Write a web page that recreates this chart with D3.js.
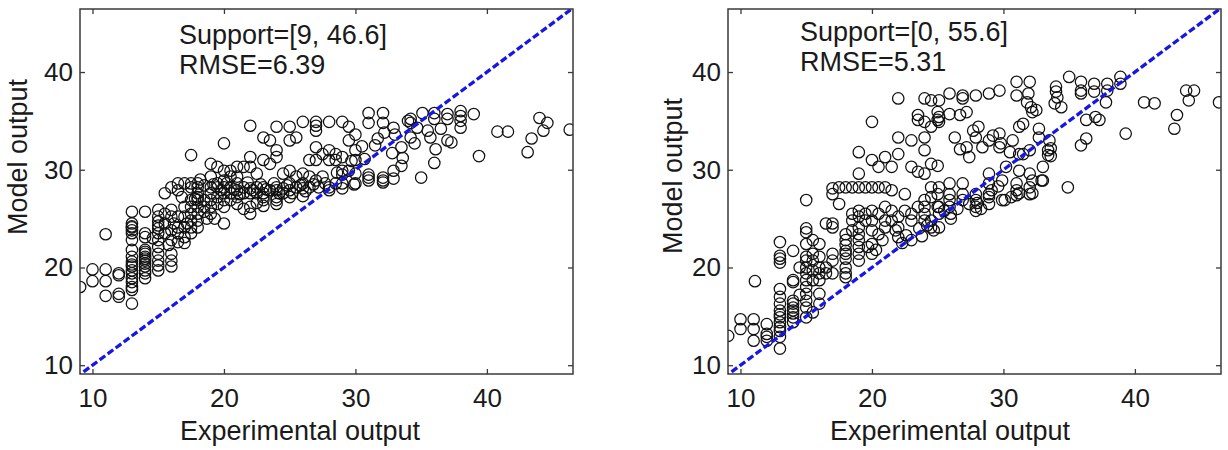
<!DOCTYPE html>
<html>
<head>
<meta charset="utf-8">
<script src="https://cdn.jsdelivr.net/npm/d3@7"></script>
<style>
  body { margin: 0; background: #fff; }
  svg { display: block; }
  .ax text { font-family: "Liberation Sans", Arial, sans-serif; font-size: 26px; fill: #1a1a1a; }
  .ax line { stroke: #3a3a3a; stroke-width: 1.3; }
  .ax path { display: none; }
  .lbl { font-family: "Liberation Sans", Arial, sans-serif; font-size: 27px; fill: #1a1a1a; }
</style>
</head>
<body>
<script>
// tick values shared by both panels
var ticks = [10, 20, 30, 40];
var xDomain = [9.05, 46.55];
var yDomain = [9.1, 46.45];

// Left panel: Support=[9, 46.6], RMSE=6.39  (experimental, model)
var leftPts = [
  [9.06,18.0],[10,19.8],[10,18.6],[11,19.8],[11,18.6],[11,17.1],[11,23.4],[12,19.4],[12,17.3],[12,17.0],[12,19.2],
  [13,25.7],[13,24.5],[13,24.1],[13,23.8],[13,23.5],[13,22.8],[13,21.8],[13,21.1],[13,20.6],[13,20.1],[13,19.7],[13,19.4],[13,18.9],[13,18.5],[13,18.0],[13,17.7],[13,16.3],[13,24.2],[13,20.3],
  [14,25.7],[14,23.5],[14,23.1],[14,21.8],[14,21.4],[14,21.1],[14,20.7],[14,20.4],[14,20.1],[14,19.7],[14,19.4],[14,18.9],[14,21.6],[14,20.9],
  [15,25.9],[15,25.2],[15,24.7],[15,24.3],[15,24.0],[15,23.5],[15,22.8],[15,22.1],[15,21.4],[15,20.7],[15,20.2],[15,19.7],[14.6,23.0],
  [15.5,27.6],[15.5,25.5],[15.5,24.5],[15.5,23.5],
  [16,28.2],[16,25.9],[16,25.2],[16,23.8],[16,22.8],[16,21.4],[16,20.7],[16,20.1],
  [16.5,28.6],[16.5,27.9],[16.5,25.2],[16.5,24.1],[16.5,23.5],[16.5,22.6],
  [17,28.6],[17,26.2],[17,25.2],[17,24.1],[17,23.1],
  [17.5,31.5],[17.5,28.6],[17.5,28.2],[17.5,26.9],[17.5,26.2],[17.5,25.5],[17.5,24.8],[17.5,24.1],[17.5,23.5],
  [18,28.6],[18,28.2],[18,27.6],[18,27.2],[18,26.9],[18,26.2],[18,25.5],[18,24.8],[18,24.1],
  [18.5,28.4],[18.5,26.9],[18.5,26.2],[18.5,25.7],
  [19,29.3],[19,28.2],[19,27.6],[19,26.9],[19,26.2],[19,25.5],[19,30.6],
  [19.5,30.3],[19.5,28.6],[19.5,28.2],[19.5,27.2],[19.5,26.5],
  [20,32.7],[20,29.9],[20,28.9],[20,28.2],[20,27.6],[20,26.9],[20,26.2],[20,24.5],
  [20.5,29.9],[20.5,29.3],[20.5,28.2],[20.5,27.6],[20.5,26.9],
  [21,30.3],[21,29.3],[21,28.6],[21,27.9],[21,27.2],
  [21.5,30.3],[21.5,28.2],[21.5,27.6],
  [22,34.5],[22,31.3],[22,30.3],[22,28.1],[22,27.6],[22,26.2],[22,25.5],
  [22.5,29.6],[22.5,28.2],[22.5,27.6],
  [23,33.3],[23,31.0],[23,28.2],[23,27.6],[23,27.2],[23,26.9],
  [23.5,33.0],[23.5,30.6],[23.5,27.9],
  [24,34.4],[24,32.0],[24,31.3],[24,28.2],[24,27.9],[24,27.2],[24,26.9],
  [24.5,29.6],[24.5,28.1],[24.5,27.6],
  [25,34.4],[25,33.0],[25,29.9],[25,28.6],[25,27.9],
  [25.5,33.3],[25.5,29.3],[25.5,28.2],
  [26,34.9],[26,29.6],[26,28.6],[26,28.1],
  [26.5,31.0],[26.5,29.3],[26.5,28.2],
  [27,34.9],[27,34.5],[27,34.0],[27,32.3],[27,31.0],[27,28.9],
  [27.5,31.6],[27.5,29.3],
  [28,34.9],[28,32.0],[28,31.0],[28,28.2],[28,27.9],
  [28.5,31.6],[28.5,31.0],[28.5,28.6],
  [29,34.9],[29,31.3],[29,29.9],[29,28.6],[29,28.1],
  [29.5,34.4],[29.5,33.0],[29.5,29.9],
  [30,32.0],[30,31.0],[30,29.6],[30,28.6],[30,33.6],
  [31,35.8],[31,34.8],[32.1,35.8],[32.1,34.8],[32.2,33.8],[31.7,33.2],[32.9,34.3],[32.8,31.7],[33.6,31.2],
  [34,35.0],[34.2,35.2],[34.2,33.3],[34.7,34.3],[35.1,35.8],[35,29.2],[35.7,33.3],[36,35.2],[36,35.8],
  [36.1,32.1],[36,30.7],[37,35.7],[37,33.0],[37.3,32.8],[37,35.2],[38,36.0],[38,35.5],[38,34.3],[38,35.0],
  [39,35.7],[39.4,31.4],[40.8,33.9],[41.6,33.9],[43.1,31.8],[43.4,33.2],[44,35.3],[44.6,34.8],[44.3,34.0],[46.3,34.1],
  [29,29.5],[29.9,28.5],[31,29.2],[31,29.5],[32.1,29.2],[32.1,28.7],[32.9,29.9],[32.9,29.1],[30.7,31.1],
  [29.7,30.9],[28.6,29.7],[31,28.9],[32.1,28.9],[33.5,30.4],[33.5,32.3],[34.2,34.8],[34.5,32.7],[33,33.6],
  [31.5,32.5],[30.5,32.4],[35.5,34.0],[36.5,34.2],
  [19.2,28.5],[19.8,27.9],[20.2,28.6],[20.8,28.0],[21.2,27.5],[21.8,28.7],[22.2,27.9],[22.8,28.5],[23.2,28.0],
  [23.8,28.6],[24.2,27.6],[24.8,28.4],[25.2,27.6],[25.8,28.4],[26.2,27.8],[26.8,28.5],[27.2,28.2],[27.7,28.6],
  [21,26.5],[23,26.3],[24,26.5],[25,27.2],[26,27.3],[18.2,29.0],[17.8,27.0],[16.8,27.2],[17.2,24.5],[16.2,24.5],
  [15.8,22.3],[17,22.5],[18.7,25.0],[19.3,25.0],[21.5,26.0],[22.5,26.6]
];

// Right panel: Support=[0, 55.6], RMSE=5.31
var rightPts = [
  [9.06,13.0],[10,13.7],[10,14.7],[11,14.7],[11,13.7],[11,12.5],[11.1,18.6],[12,14.2],[12,12.9],[12,12.5],[12,13.2],
  [13,22.6],[13,21.2],[13,20.9],[13,20.5],[13,17.8],[13,17.0],[13,16.3],[13,15.6],[13,14.9],[13,14.4],[13,13.9],[13,13.5],[13,12.9],[13,11.7],[13,15.2],
  [14,21.7],[14,18.7],[14,16.6],[14,16.3],[14,15.9],[14,15.6],[14,15.3],[14,14.9],[14,14.4],[14,18.5],
  [14.5,20.0],[14.5,17.2],
  [15,26.9],[15,24.0],[15,23.6],[15,22.4],[15,21.1],[15,20.7],[15,20.0],[15,19.4],[15,18.7],[15,18.0],[15,17.3],[15,16.6],[15,15.9],[15,14.9],
  [15.5,22.8],[15.5,21.4],[15.5,20.7],[15.5,19.7],[15.5,18.7],[15.5,15.4],
  [16,22.4],[16,21.1],[16,20.0],[16,19.4],[16,18.7],[16,17.3],[16,16.3],
  [16.5,24.5],[16.5,20.0],[16.5,19.4],
  [17,28.1],[17,27.5],[17,24.5],[17,24.1],[17,21.4],[17,20.7],[17,19.4],
  [17.5,28.2],[17.5,26.5],
  [18,28.2],[18,23.4],[18,22.8],[18,22.3],[18,21.7],[18,21.4],[18,20.9],[18,20.0],[18,19.4],[18,19.0],
  [18.5,28.2],[18.5,25.5],[18.5,24.8],[18.5,23.8],
  [19,31.8],[19,29.6],[19,28.2],[19,25.8],[19,25.2],[19,24.1],[19,23.4],[19,22.8],[19,22.1],[19,21.4],[19,20.7],
  [19.5,28.2],[19.5,25.5],[19.5,24.8],
  [20,34.9],[20,31.0],[20,28.2],[20,25.8],[20,24.8],[20,23.8],[20,22.4],
  [20.5,30.3],[20.5,28.2],[20.5,25.5],[20.5,23.4],
  [21,31.3],[21,28.2],[21,26.2],[21,24.8],[21,24.1],
  [21.5,30.3],[21.5,27.9],[21.5,25.8],[21.5,24.8],
  [22,37.3],[22,33.3],[22,31.6],[22,24.1],[22,23.1],[22,25.2],
  [22.5,27.5],[22.5,25.8],
  [23,33.0],[23,30.3],[23,25.5],[23,24.8],[23,22.8],
  [23.5,35.6],[23.5,35.1],[23.5,29.8],[23.5,26.2],
  [24,37.3],[24,34.9],[24,33.3],[24,32.0],[24,29.6],[24,26.9],[24,26.2],[24,25.5],[24,24.8],
  [24.5,37.1],[24.5,34.4],[24.5,30.6],[24.5,28.2],[24.5,27.2],[24.5,24.8],[24.5,24.1],
  [25,35.9],[25,35.1],[25,30.4],[25,27.5],[25,26.2],
  [25.1,37.1],[25.9,37.8],[26.9,37.6],[26.9,37.3],[27.9,37.6],[28.9,37.8],[29.7,38.1],[31,39.0],[31,37.6],
  [32,39.0],[31.9,37.8],[31.8,36.9],[32.1,36.4],[32.2,35.9],[32.5,36.1],
  [34,38.5],[34,38.0],[34.1,37.4],[33.9,36.8],[34.4,36.4],[35,39.5],[35.9,39.0],[35.9,38.1],[35.9,37.8],
  [36.9,38.8],[36.9,38.0],[37.9,38.8],[37.9,38.1],[37.8,36.9],[38.9,39.5],[38.9,38.8],
  [40.7,36.9],[41.5,36.8],[39.3,33.7],[43,34.2],[43.2,35.6],[43.9,38.1],[44.5,38.1],[44.1,37.1],[46.4,36.9],
  [25.1,34.9],[25.1,35.4],[25.9,35.7],[26.7,35.6],[27.2,35.9],
  [26.3,33.3],[27.2,32.3],[26.7,32.1],[27.4,31.3],[27.7,34.0],[28.1,34.4],[27.9,33.3],
  [28.4,32.3],[28.9,33.0],[29.2,33.5],[29.7,33.7],[29.8,32.7],[29.7,32.3],
  [30.5,31.8],[30.7,33.0],[31.2,34.4],[31.5,34.7],[32.7,34.2],[32.7,33.3],[33.4,32.0],[33.4,31.5],[33.5,33.0],
  [31.5,31.6],[30.2,30.3],[31.2,29.9],[32,29.6],[32.9,28.9],[33,30.3],[31.2,31.6],[32,32.0],
  [36.3,35.1],[37,35.4],[37.3,35.1],[35.9,32.5],[36.3,33.2],[34.9,28.2],[33.6,32.2],[33.6,31.4],
  [25.1,28.2],[25.9,28.6],[25.9,27.5],[25.9,26.9],[25.9,26.2],
  [26.9,28.6],[26.9,27.5],[26.9,26.9],[27.9,27.5],[27.9,26.9],[27.9,26.2],[27.9,25.8],[28,26.6],
  [28.9,28.6],[28.9,27.5],[28.9,27.2],[28.9,26.5],[29.9,26.9],[30.1,26.9],
  [31,28.6],[31,27.9],[31,27.4],[31.2,27.6],[32,28.2],[32,27.5],[32.2,27.6],[32.2,28.9],[33,28.9],
  [28.9,29.6],[29.9,28.9],[25.1,26.2],[25.1,25.5],[25.1,24.1],
  [26,25.0],[26,25.5],[26.5,26.0],[25.5,25.8],[24.2,24.3],[23.6,24.0],[22.6,23.3],[21.8,23.8],[20.8,22.8],
  [20.3,21.8],[19.7,22.1],[27.4,26.5],[28.3,26.0],[29.1,27.9],[29.6,28.3],[30.6,27.2],[23.8,23.2],[22.3,22.5],
  [20.0,21.4],[24.7,23.8]
];

var panels = [
  { left: 80,  pts: leftPts,  lines: ["Support=[9, 46.6]", "RMSE=6.39"], tx: 179, ty: 44, ylx: 27,  yly: 157, xlx: 300 },
  { left: 728, pts: rightPts, lines: ["Support=[0, 55.6]", "RMSE=5.31"], tx: 800, ty: 41, ylx: 682, yly: 176, xlx: 950 }
];
var plotW = 493, plotTop = 9, plotH = 365;

var svg = d3.select("body").append("svg")
  .attr("width", 1228)
  .attr("height", 450);

panels.forEach(function(p, i) {
  var x = d3.scaleLinear().domain(xDomain).range([0, plotW]);
  var y = d3.scaleLinear().domain(yDomain).range([plotH, 0]);
  var g = svg.append("g").attr("transform", "translate(" + p.left + "," + plotTop + ")");

  var clipId = "clip" + i;
  g.append("clipPath").attr("id", clipId)
    .append("rect").attr("width", plotW).attr("height", plotH);

  // axes with ticks pointing inward, MATLAB style
  g.append("g").attr("class", "ax").attr("transform", "translate(0," + plotH + ")")
    .call(d3.axisBottom(x).tickValues(ticks).tickSizeInner(-5).tickSizeOuter(0).tickPadding(15));
  g.append("g").attr("class", "ax")
    .call(d3.axisTop(x).tickValues(ticks).tickSizeInner(-5).tickSizeOuter(0).tickFormat(""));
  g.append("g").attr("class", "ax")
    .call(d3.axisLeft(y).tickValues(ticks).tickSizeInner(-5).tickSizeOuter(0).tickPadding(7));
  g.append("g").attr("class", "ax").attr("transform", "translate(" + plotW + ",0)")
    .call(d3.axisRight(y).tickValues(ticks).tickSizeInner(-5).tickSizeOuter(0).tickFormat(""));

  var lo = Math.max(xDomain[0], yDomain[0]) - 1, hi = Math.min(xDomain[1], yDomain[1]) + 1;

  g.append("g").attr("clip-path", "url(#" + clipId + ")")
    .selectAll("circle")
    .data(p.pts)
    .enter()
    .append("circle")
    .attr("cx", function(d) { return x(d[0]); })
    .attr("cy", function(d) { return y(d[1]); })
    .attr("r", 5.7)
    .attr("fill", "none")
    .attr("stroke", "#111")
    .attr("stroke-width", 1.25);

  g.append("line")
    .attr("clip-path", "url(#" + clipId + ")")
    .attr("x1", x(lo)).attr("y1", y(lo))
    .attr("x2", x(hi)).attr("y2", y(hi))
    .attr("stroke", "#1616e8")
    .attr("stroke-width", 3.3)
    .attr("stroke-dasharray", "7,3");

  g.append("rect")
    .attr("width", plotW).attr("height", plotH)
    .attr("fill", "none")
    .attr("stroke", "#3a3a3a")
    .attr("stroke-width", 1.5);

  g.selectAll(".note")
    .data(p.lines)
    .enter()
    .append("text")
    .attr("class", "lbl note")
    .attr("x", p.tx - p.left)
    .attr("y", function(d, k) { return p.ty - plotTop + k * 30; })
    .text(function(d) { return d; });

  svg.append("text").attr("class", "lbl")
    .attr("x", p.xlx).attr("y", 440)
    .attr("text-anchor", "middle")
    .text("Experimental output");

  svg.append("text").attr("class", "lbl")
    .attr("transform", "translate(" + p.ylx + "," + p.yly + ") rotate(-90)")
    .attr("text-anchor", "middle")
    .text("Model output");
});
</script>
</body>
</html>
